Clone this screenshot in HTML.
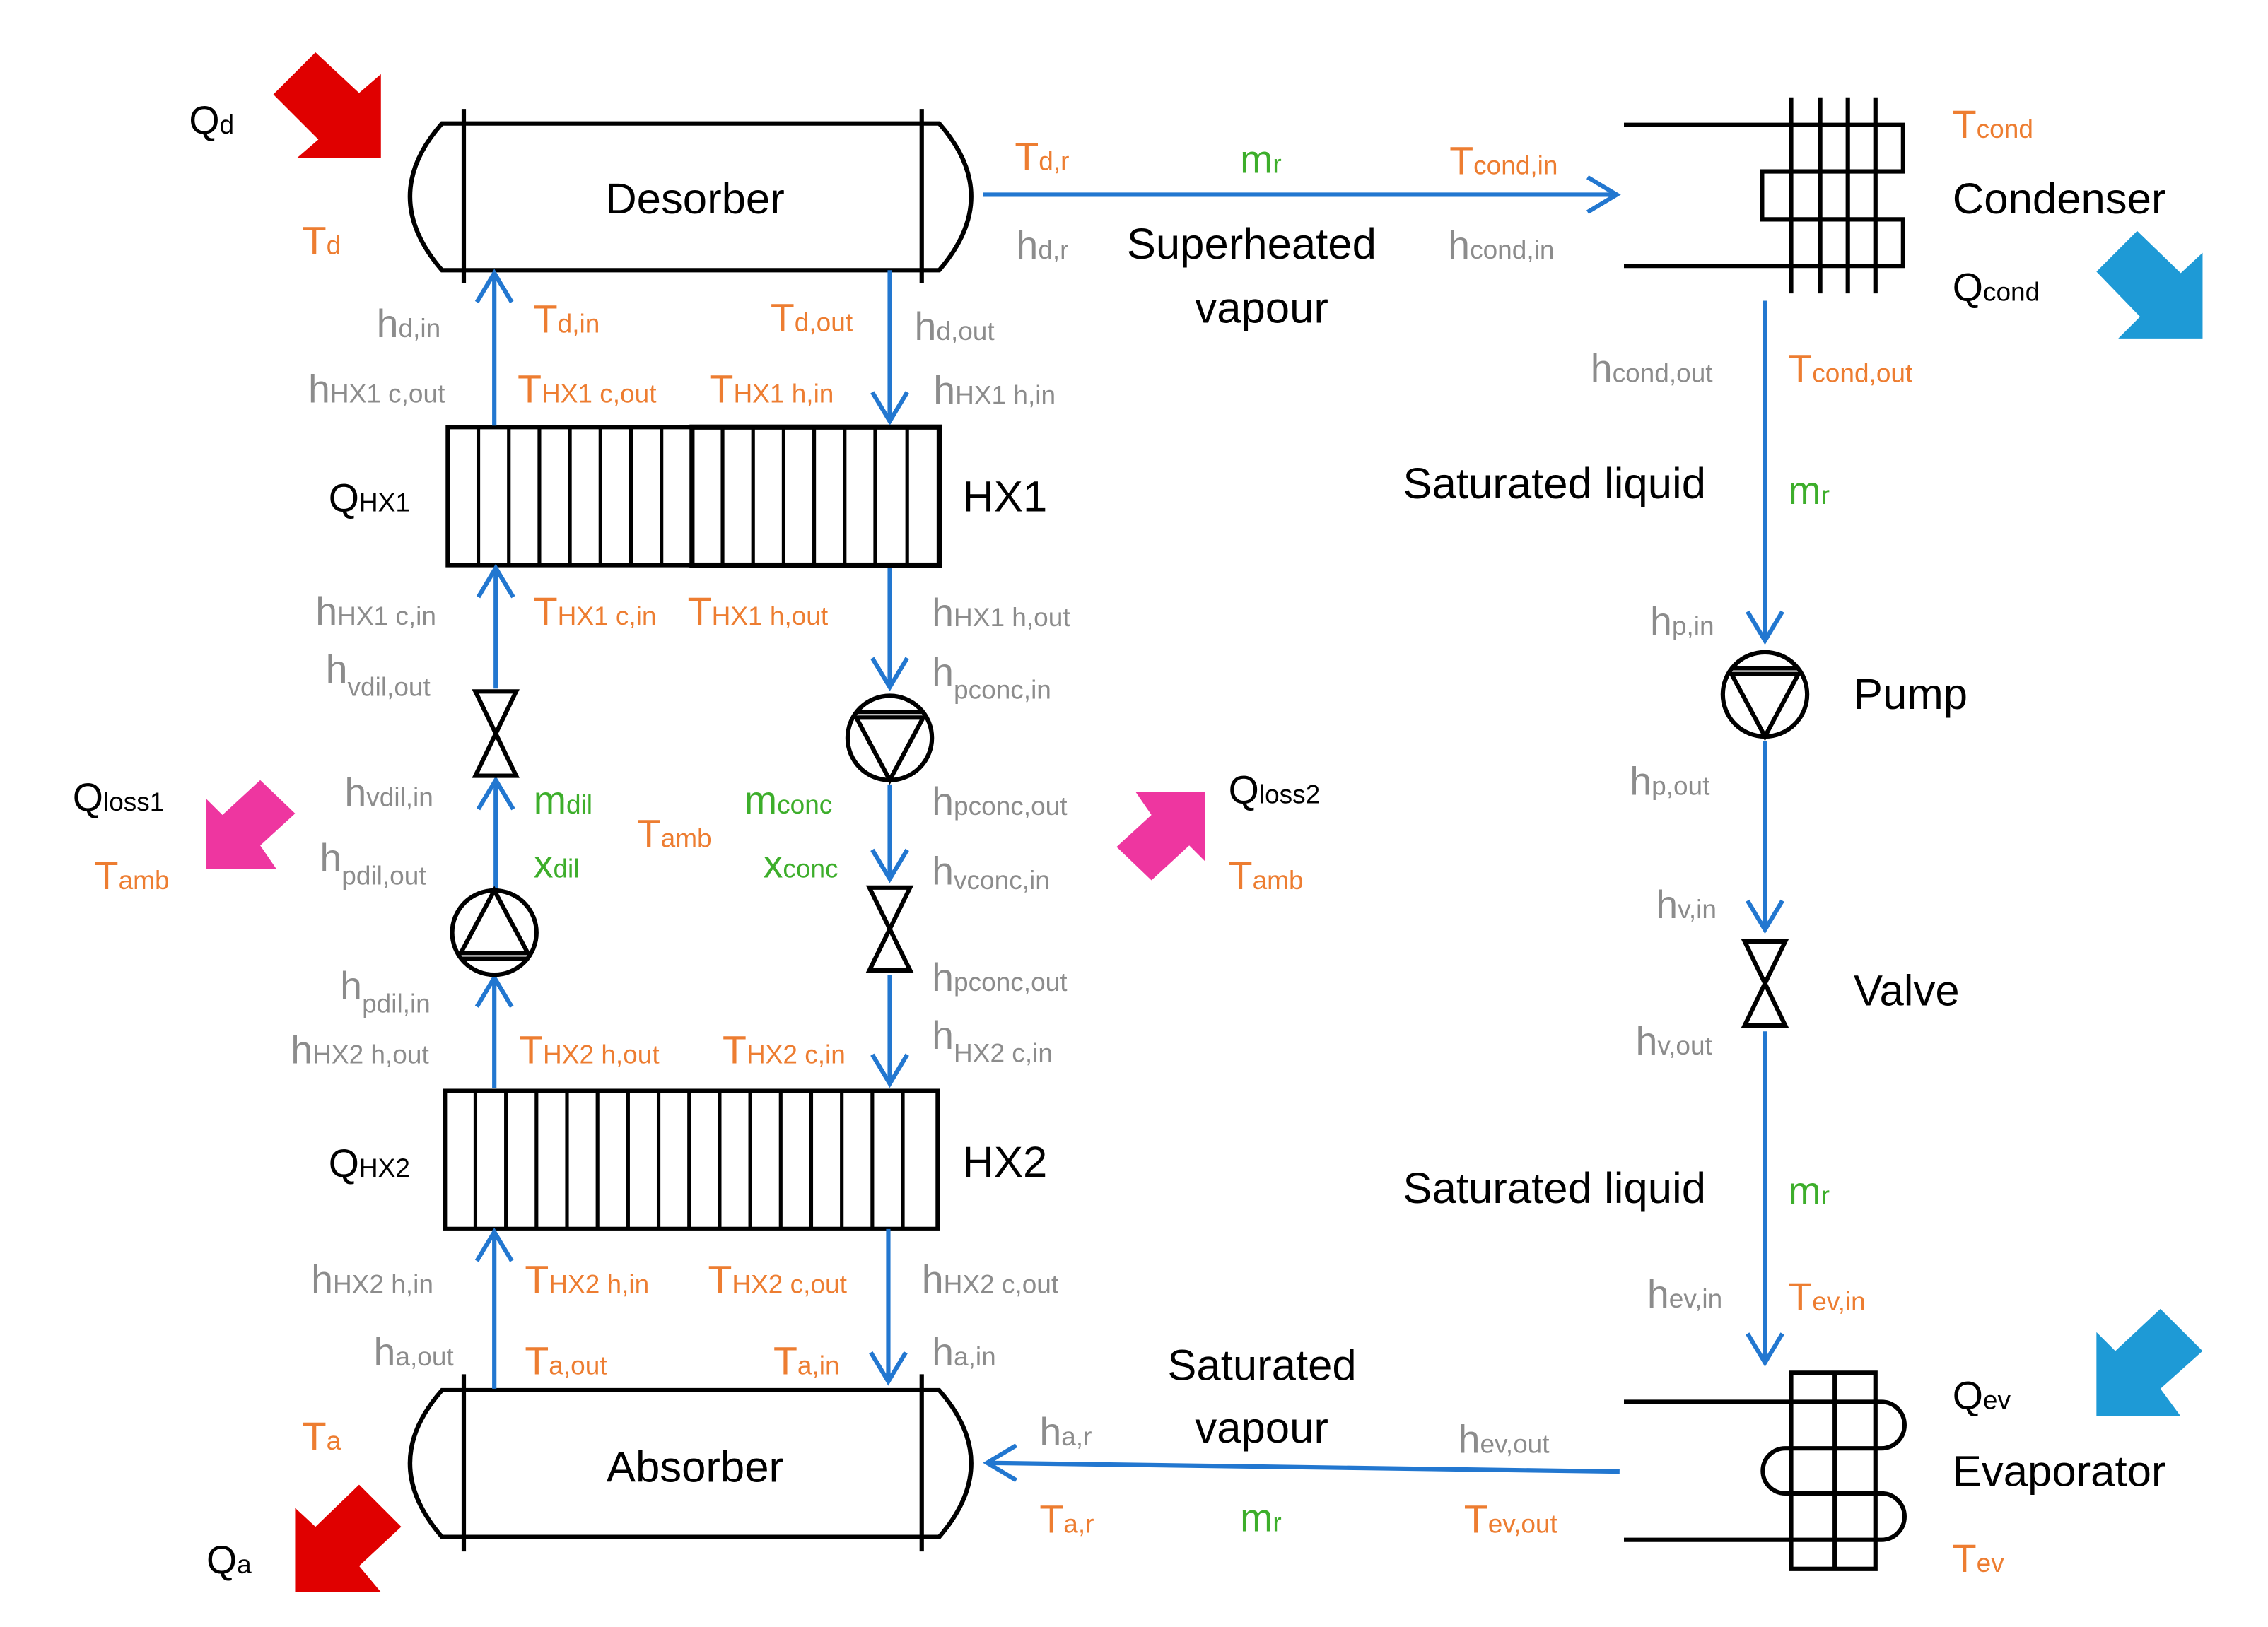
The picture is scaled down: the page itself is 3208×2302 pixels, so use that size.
<!DOCTYPE html>
<html><head><meta charset="utf-8"><style>
html,body{margin:0;padding:0;background:#fff;}
svg{display:block;}
text{font-family:"Liberation Sans",sans-serif;font-size:27px;}
.s{font-size:18px;}
.o{fill:#ED7D31;} .g{fill:#8C8C8C;} .n{fill:#3DAE2B;} .k{fill:#000;}
.big{font-size:30px;fill:#000;}
.bl{stroke:#2277D0;stroke-width:3;fill:none;}
.bk{stroke:#000;stroke-width:3;fill:none;}
</style></head><body>
<svg width="3208" height="2302" viewBox="0 0 1560 1120" preserveAspectRatio="none" xmlns="http://www.w3.org/2000/svg">
<rect width="1560" height="1120" fill="#fff"/>
<polygon points="217,36 247,64 262,51 262,109 204,109 219,96 188,65" fill="#E00000"/>
<polygon points="247,1022 276,1051 247,1078 262,1096 203,1096 203,1038 217,1051" fill="#E00000"/>
<polygon points="1470,159 1500,188 1515,174 1515,233 1457,233 1472,218 1442,187" fill="#1E9AD6"/>
<polygon points="1486,901 1515,930 1486,956 1500,975 1442,975 1442,917 1455,930" fill="#1E9AD6"/>
<polygon points="179,537 203,560 179,582 190,598 142,598 142,550 153,561" fill="#EE36A0"/>
<polygon points="792,606 768,583 792,561 781,545 829,545 829,593 818,582" fill="#EE36A0"/>
<path class="bk" d="M304,85 H646 Q690,135 646,186 H304 Q260,135 304,85 Z"/>
<line class="bk" x1="319" y1="75" x2="319" y2="195"/><line class="bk" x1="634" y1="75" x2="634" y2="195"/>
<path class="bk" d="M304,957 H646 Q690,1007 646,1058 H304 Q260,1007 304,957 Z"/>
<line class="bk" x1="319" y1="946" x2="319" y2="1068"/><line class="bk" x1="634" y1="946" x2="634" y2="1068"/>
<rect class="bk" x="308" y="294" width="168" height="95"/><rect class="bk" x="476" y="294" width="170" height="95" style="stroke-width:3.5"/>
<g class="bk" style="stroke-width:2.5">
<path d="M329,294V389M350,294V389M371,294V389M392,294V389M413,294V389M434,294V389M455,294V389M497,294V389M518,294V389M539,294V389M560,294V389M581,294V389M602,294V389M624,294V389"/>
<rect x="306" y="751" width="339" height="95" style="stroke-width:3"/>
<path d="M327,751V846M348,751V846M369,751V846M390,751V846M411,751V846M432,751V846M453,751V846M474,751V846M495,751V846M516,751V846M537,751V846M558,751V846M579,751V846M600,751V846M621,751V846"/>
</g>
<g class="bl">
<path d="M340,293V188M328,208L340,188L352,208"/>
<path d="M612,186V290M600,270L612,290L624,270"/>
<path d="M341,474V391M329,411L341,391L353,411"/>
<path d="M612,391V473M600,453L612,473L624,453"/>
<path d="M341,612V537M329,557L341,537L353,557"/>
<path d="M612,540V605M600,585L612,605L624,585"/>
<path d="M340,749V673M328,693L340,673L352,693"/>
<path d="M612,671V746M600,726L612,746L624,726"/>
<path d="M340,956V848M328,868L340,848L352,868"/>
<path d="M611,846V951M599,931L611,951L623,931"/>
<path d="M676,134H1112M1092,122L1112,134L1092,146"/>
<path d="M1214,207V441M1202,421L1214,441L1226,421"/>
<path d="M1214,510V640M1202,620L1214,640L1226,620"/>
<path d="M1214,710V938M1202,918L1214,938L1226,918"/>
<path d="M1114,1013L679,1007M699,995L679,1007L699,1019"/>
</g>
<g class="bk">
<path d="M327,476H355L327,534H355Z"/>
<path d="M598,611H626L598,668H626Z"/>
<path d="M1200,648H1228L1200,706H1228Z"/>
<circle cx="612" cy="508" r="29"/><path d="M589,494L612,537L635,494ZM590,490H634"/>
<circle cx="340" cy="642" r="29"/><path d="M317,656L340,613L363,656ZM318,660H362"/>
<circle cx="1214" cy="478" r="29"/><path d="M1191,464L1214,507L1237,464ZM1192,460H1236"/>
<path d="M1117,86H1309V118H1212V151H1309V183H1117"/>
<path d="M1232,67V202M1252,67V202M1271,67V202M1290,67V202"/>
<rect x="1232" y="945" width="58" height="135"/>
<path d="M1262,945V1080"/>
<path d="M1117,965H1294A16,16 0 0 1 1294,997H1228A15.5,15.5 0 0 0 1228,1028H1294A16,16 0 0 1 1294,1060H1117"/>
</g>
<text x="478" y="147" text-anchor="middle" class="big">Desorber</text>
<text x="478" y="1020" text-anchor="middle" class="big">Absorber</text>
<text x="662" y="352" class="big">HX1</text>
<text x="662" y="810" class="big">HX2</text>
<text x="1343" y="147" class="big">Condenser</text>
<text x="1343" y="1023" class="big">Evaporator</text>
<text x="1275" y="488" class="big">Pump</text>
<text x="1275" y="692" class="big">Valve</text>
<text x="775" y="178" class="big">Superheated</text>
<text x="822" y="222" class="big">vapour</text>
<text x="803" y="950" class="big">Saturated</text>
<text x="822" y="993" class="big">vapour</text>
<text x="965" y="343" class="big">Saturated liquid</text>
<text x="965" y="828" class="big">Saturated liquid</text>

<text x="130" y="92" class="k">Q<tspan class="s">d</tspan></text>
<text x="226" y="352" class="k">Q<tspan class="s">HX1</tspan></text>
<text x="226" y="810" class="k">Q<tspan class="s">HX2</tspan></text>
<text x="142" y="1083" class="k">Q<tspan class="s">a</tspan></text>
<text x="50" y="558" class="k">Q<tspan class="s">loss1</tspan></text>
<text x="845" y="553" class="k">Q<tspan class="s">loss2</tspan></text>
<text x="1343" y="207" class="k">Q<tspan class="s">cond</tspan></text>
<text x="1343" y="970" class="k">Q<tspan class="s">ev</tspan></text>

<g class="o">
<text x="208" y="175">T<tspan class="s">d</tspan></text>
<text x="367" y="229">T<tspan class="s">d,in</tspan></text>
<text x="530" y="228">T<tspan class="s">d,out</tspan></text>
<text x="356" y="277">T<tspan class="s">HX1 c,out</tspan></text>
<text x="488" y="277">T<tspan class="s">HX1 h,in</tspan></text>
<text x="367" y="430">T<tspan class="s">HX1 c,in</tspan></text>
<text x="473" y="430">T<tspan class="s">HX1 h,out</tspan></text>
<text x="438" y="583">T<tspan class="s">amb</tspan></text>
<text x="65" y="612">T<tspan class="s">amb</tspan></text>
<text x="845" y="612">T<tspan class="s">amb</tspan></text>
<text x="357" y="732">T<tspan class="s">HX2 h,out</tspan></text>
<text x="497" y="732">T<tspan class="s">HX2 c,in</tspan></text>
<text x="361" y="890">T<tspan class="s">HX2 h,in</tspan></text>
<text x="487" y="890">T<tspan class="s">HX2 c,out</tspan></text>
<text x="361" y="946">T<tspan class="s">a,out</tspan></text>
<text x="532" y="946">T<tspan class="s">a,in</tspan></text>
<text x="208" y="998">T<tspan class="s">a</tspan></text>
<text x="698" y="117">T<tspan class="s">d,r</tspan></text>
<text x="997" y="120">T<tspan class="s">cond,in</tspan></text>
<text x="1343" y="95">T<tspan class="s">cond</tspan></text>
<text x="1230" y="263">T<tspan class="s">cond,out</tspan></text>
<text x="1230" y="902">T<tspan class="s">ev,in</tspan></text>
<text x="1343" y="1082">T<tspan class="s">ev</tspan></text>
<text x="715" y="1055">T<tspan class="s">a,r</tspan></text>
<text x="1007" y="1055">T<tspan class="s">ev,out</tspan></text>
</g>
<g class="n">
<text x="367" y="560">m<tspan class="s">dil</tspan></text>
<text x="512" y="560">m<tspan class="s">conc</tspan></text>
<text x="367" y="604">x<tspan class="s">dil</tspan></text>
<text x="525" y="604">x<tspan class="s">conc</tspan></text>
<text x="853" y="119">m<tspan class="s">r</tspan></text>
<text x="1230" y="347">m<tspan class="s">r</tspan></text>
<text x="1230" y="829">m<tspan class="s">r</tspan></text>
<text x="853" y="1054">m<tspan class="s">r</tspan></text>
</g>
<g class="g">
<text x="259" y="232">h<tspan class="s">d,in</tspan></text>
<text x="629" y="234">h<tspan class="s">d,out</tspan></text>
<text x="212" y="277">h<tspan class="s">HX1 c,out</tspan></text>
<text x="642" y="278">h<tspan class="s">HX1 h,in</tspan></text>
<text x="217" y="430">h<tspan class="s">HX1 c,in</tspan></text>
<text x="641" y="431">h<tspan class="s">HX1 h,out</tspan></text>
<text x="224" y="470">h<tspan class="s" dy="9">vdil,out</tspan></text>
<text x="641" y="472">h<tspan class="s" dy="9">pconc,in</tspan></text>
<text x="237" y="555">h<tspan class="s">vdil,in</tspan></text>
<text x="641" y="561">h<tspan class="s">pconc,out</tspan></text>
<text x="220" y="600">h<tspan class="s" dy="9">pdil,out</tspan></text>
<text x="641" y="609">h<tspan class="s" dy="3">vconc,in</tspan></text>
<text x="234" y="688">h<tspan class="s" dy="9">pdil,in</tspan></text>
<text x="641" y="682">h<tspan class="s">pconc,out</tspan></text>
<text x="200" y="732">h<tspan class="s">HX2 h,out</tspan></text>
<text x="641" y="722">h<tspan class="s" dy="9">HX2 c,in</tspan></text>
<text x="214" y="890">h<tspan class="s">HX2 h,in</tspan></text>
<text x="634" y="890">h<tspan class="s">HX2 c,out</tspan></text>
<text x="257" y="940">h<tspan class="s">a,out</tspan></text>
<text x="641" y="940">h<tspan class="s">a,in</tspan></text>
<text x="699" y="178">h<tspan class="s">d,r</tspan></text>
<text x="996" y="178">h<tspan class="s">cond,in</tspan></text>
<text x="1094" y="263">h<tspan class="s">cond,out</tspan></text>
<text x="1135" y="437">h<tspan class="s">p,in</tspan></text>
<text x="1121" y="547">h<tspan class="s">p,out</tspan></text>
<text x="1139" y="632">h<tspan class="s">v,in</tspan></text>
<text x="1125" y="726">h<tspan class="s">v,out</tspan></text>
<text x="1133" y="900">h<tspan class="s">ev,in</tspan></text>
<text x="715" y="995">h<tspan class="s">a,r</tspan></text>
<text x="1003" y="1000">h<tspan class="s">ev,out</tspan></text>
</g>
</svg>
</body></html>
